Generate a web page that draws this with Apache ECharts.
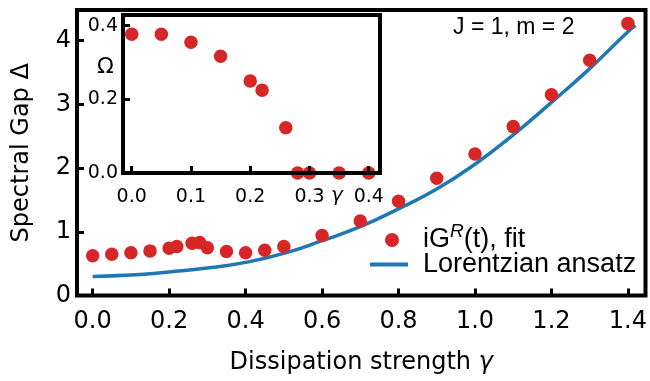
<!DOCTYPE html>
<html>
<head>
<meta charset="utf-8">
<script src="https://cdn.jsdelivr.net/npm/echarts@6/dist/echarts.min.js"></script>
<style>
  html, body { margin: 0; padding: 0; background: #fff; }
  #chart { width: 650px; height: 381px; }
</style>
</head>
<body>
<div id="chart"></div>
<script>
// main panel: spectral gap vs dissipation strength
const gammaMain = [0, 0.05, 0.1, 0.15, 0.2, 0.22, 0.26, 0.28, 0.3, 0.35, 0.4, 0.45, 0.5, 0.6, 0.7, 0.8, 0.9, 1.0, 1.1, 1.2, 1.3, 1.4];
const gapFit = [0.625, 0.646, 0.67, 0.70, 0.74, 0.77, 0.82, 0.83, 0.75, 0.69, 0.67, 0.71, 0.77, 0.94, 1.17, 1.48, 1.84, 2.22, 2.65, 3.15, 3.69, 4.27];

// Lorentzian ansatz curve
const gammaCurve = [0, 0.1, 0.2, 0.3, 0.4, 0.5, 0.6, 0.7, 0.8, 0.9, 1.0, 1.1, 1.2, 1.3, 1.4, 1.42];
const gapCurve = [0.30, 0.32, 0.37, 0.43, 0.52, 0.66, 0.86, 1.08, 1.36, 1.67, 2.06, 2.52, 3.03, 3.56, 4.14, 4.24];

// inset: Omega vs gamma
const gammaInset = [0, 0.05, 0.1, 0.15, 0.2, 0.22, 0.26, 0.28, 0.3, 0.35, 0.4];
const omegaInset = [0.377, 0.377, 0.355, 0.317, 0.25, 0.225, 0.123, 0, 0, 0, 0];

// tick values
const xTicksMain = [0, 0.2, 0.4, 0.6, 0.8, 1.0, 1.2, 1.4];
const yTicksMain = [0, 1, 2, 3, 4];
const xTicksInset = [0, 0.1, 0.2, 0.3, 0.4];
const yTicksInset = [0, 0.2, 0.4];

const RED = '#d62728';
const BLUE = '#1f77b4';
const FONT = 'DejaVu Sans';

const chart = echarts.init(document.getElementById('chart'));

function tickStyle(len, values) {
  return { inside: true, length: len, customValues: values, lineStyle: { color: '#000', width: 3 } };
}
// frame line of the inset, drawn above its dots
const frameLine = { show: true, onZero: false, lineStyle: { color: '#000', width: 4, cap: 'square' } };
const noLine = { show: false, onZero: false };

chart.setOption({
  animation: false,
  title: {
    text: 'J = 1, m = 2',
    left: 453, top: 16, padding: 0,
    textStyle: { fontFamily: 'Liberation Sans', fontSize: 23, fontWeight: 'normal', color: '#000' }
  },
  legend: [
    {
      data: [{ name: 'iGR', icon: 'circle' }],
      left: 385, top: 222, padding: 0,
      itemWidth: 14, itemHeight: 14,
      formatter: () => '{sp|}{n|iG}{s|R}{n|(t), fit}',
      textStyle: {
        rich: {
          sp: { width: 19 },
          n: { fontFamily: 'Liberation Sans', fontSize: 27, color: '#000' },
          s: { fontFamily: 'Liberation Sans', fontSize: 19, fontStyle: 'italic', color: '#000', padding: [0, 0, 17, 0] }
        }
      }
    },
    {
      data: [{ name: 'Lorentzian ansatz', icon: 'rect' }],
      left: 370, top: 251, padding: 0,
      itemWidth: 38, itemHeight: 4,
      textStyle: { fontFamily: 'Liberation Sans', fontSize: 27, color: '#000', padding: [0, 0, 0, 10] }
    }
  ],
  grid: [
    { left: 77, top: 10, right: 3, bottom: 85.5, show: true, borderWidth: 4, borderColor: '#000', backgroundColor: 'transparent' },
    { left: 123, top: 15, width: 257, height: 158 }
  ],
  xAxis: [
    {
      gridIndex: 0, type: 'value', min: -0.041, max: 1.446,
      axisLine: noLine, splitLine: { show: false },
      axisTick: tickStyle(7, xTicksMain),
      axisLabel: { customValues: xTicksMain, formatter: v => v.toFixed(1), fontFamily: FONT, fontSize: 24, color: '#000', margin: 14 },
      name: 'Dissipation strength {i|γ}', nameLocation: 'middle', nameGap: 55,
      nameTextStyle: { fontFamily: FONT, fontSize: 24, color: '#000', rich: { i: { fontFamily: FONT, fontSize: 24, fontStyle: 'italic', color: '#000' } } }
    },
    {
      gridIndex: 1, type: 'value', min: -0.0147, max: 0.419, position: 'bottom', z: 5,
      axisLine: frameLine, splitLine: { show: false },
      axisTick: tickStyle(7, xTicksInset),
      axisLabel: { customValues: xTicksInset, formatter: v => v.toFixed(1), fontFamily: FONT, fontSize: 19, color: '#000', margin: 15 }
    },
    {
      gridIndex: 1, type: 'value', min: -0.0147, max: 0.419, position: 'top', z: 5,
      axisLine: frameLine, splitLine: { show: false }, axisTick: { show: false }, axisLabel: { show: false }
    }
  ],
  yAxis: [
    {
      gridIndex: 0, type: 'value', min: 0, max: 4.48,
      axisLine: noLine, splitLine: { show: false },
      axisTick: tickStyle(7, yTicksMain),
      axisLabel: { customValues: yTicksMain, fontFamily: FONT, fontSize: 24, color: '#000', margin: 6 },
      name: 'Spectral Gap Δ', nameLocation: 'middle', nameGap: 43,
      nameTextStyle: { fontFamily: FONT, fontSize: 24, color: '#000' }
    },
    {
      gridIndex: 1, type: 'value', min: 0, max: 0.429, position: 'left', z: 5,
      axisLine: frameLine, splitLine: { show: false },
      axisTick: tickStyle(7, yTicksInset),
      axisLabel: { customValues: yTicksInset, formatter: v => v.toFixed(1), fontFamily: FONT, fontSize: 19, color: '#000', margin: 5 }
    },
    {
      gridIndex: 1, type: 'value', min: 0, max: 0.429, position: 'right', z: 5,
      axisLine: frameLine, splitLine: { show: false }, axisTick: { show: false }, axisLabel: { show: false }
    }
  ],
  graphic: [
    { type: 'text', left: 97, top: 56, style: { text: 'Ω', fontFamily: FONT, fontSize: 22, fill: '#000' } },
    { type: 'text', left: 331, top: 186, style: { text: 'γ', fontFamily: FONT, fontSize: 20, fontStyle: 'italic', fill: '#000' } }
  ],
  series: [
    {
      name: 'Lorentzian ansatz', type: 'line', xAxisIndex: 0, yAxisIndex: 0,
      data: gammaCurve.map((g, i) => [g, gapCurve[i]]),
      smooth: true, symbol: 'none', z: 2,
      lineStyle: { color: BLUE, width: 3.5 }, itemStyle: { color: BLUE }
    },
    {
      name: 'iGR', type: 'scatter', xAxisIndex: 0, yAxisIndex: 0,
      data: gammaMain.map((g, i) => [g, gapFit[i]]),
      symbolSize: 13.5, itemStyle: { color: RED, opacity: 1 }, z: 3
    },
    {
      name: 'inset', type: 'scatter', xAxisIndex: 1, yAxisIndex: 1,
      data: gammaInset.map((g, i) => [g, omegaInset[i]]),
      symbolSize: 13.5, itemStyle: { color: RED, opacity: 1 }, z: 2
    }
  ]
});
</script>
</body>
</html>
